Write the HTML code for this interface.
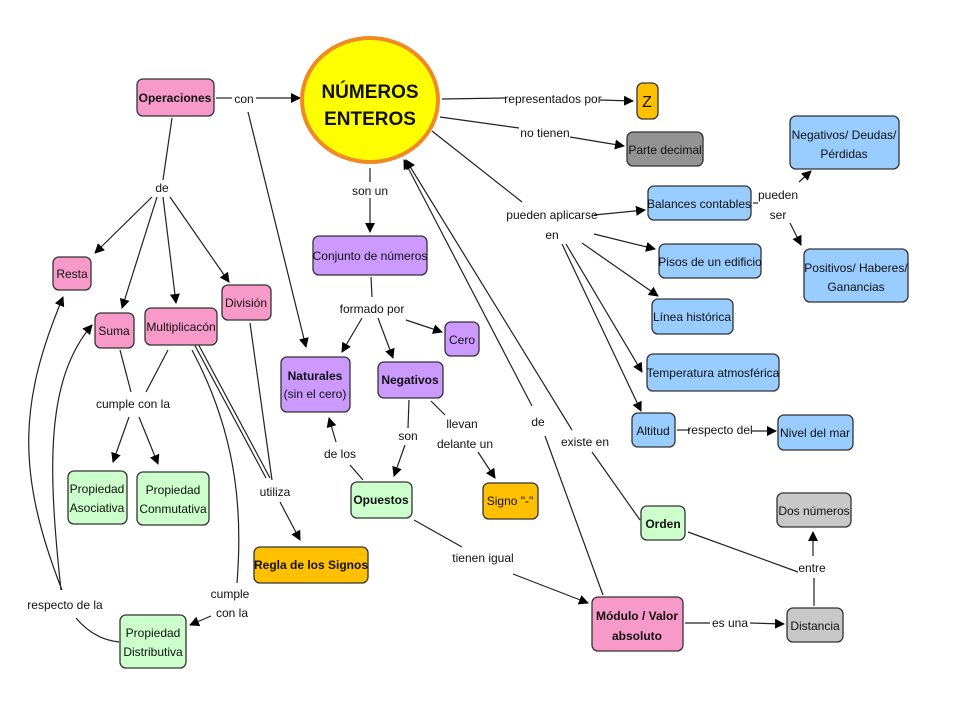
<!DOCTYPE html>
<html><head><meta charset="utf-8"><style>
html,body{margin:0;padding:0;background:#fff;}
svg{display:block;}
text{font-family:"Liberation Sans",sans-serif;font-size:12px;fill:#111;}
.b{font-weight:bold;}
</style></head><body>
<svg width="960" height="720" viewBox="0 0 960 720" xmlns="http://www.w3.org/2000/svg">
<defs>
<marker id="a" viewBox="0 0 10 10" refX="9" refY="5" markerWidth="10" markerHeight="10" markerUnits="userSpaceOnUse" orient="auto">
<path d="M0,0 L10,5 L0,10 z" fill="#000"/></marker>
</defs>
<g stroke="#222" stroke-width="1.2" fill="none">
<!-- Operaciones con -->
<line x1="216" y1="98" x2="232" y2="98"/>
<line x1="256" y1="98" x2="300" y2="98" marker-end="url(#a)"/>
<line x1="248" y1="112" x2="306" y2="347" marker-end="url(#a)"/>
<!-- de -->
<line x1="172" y1="118" x2="163" y2="180"/>
<line x1="152" y1="197" x2="95" y2="253" marker-end="url(#a)"/>
<line x1="157" y1="197" x2="122" y2="308" marker-end="url(#a)"/>
<line x1="163" y1="197" x2="176" y2="303" marker-end="url(#a)"/>
<line x1="170" y1="197" x2="229" y2="282" marker-end="url(#a)"/>
<!-- son un -->
<line x1="370" y1="168" x2="370" y2="182"/>
<line x1="370" y1="198" x2="370" y2="232" marker-end="url(#a)"/>
<!-- formado por -->
<line x1="371" y1="277" x2="372" y2="297"/>
<line x1="362" y1="318" x2="342" y2="352" marker-end="url(#a)"/>
<line x1="378" y1="318" x2="393" y2="358" marker-end="url(#a)"/>
<line x1="406" y1="320" x2="442" y2="332" marker-end="url(#a)"/>
<!-- utiliza -->
<line x1="250" y1="323" x2="272" y2="480"/>
<line x1="192" y1="340" x2="266" y2="478"/>
<line x1="196" y1="340" x2="270" y2="478"/>
<line x1="280" y1="502" x2="300" y2="540" marker-end="url(#a)"/>
<!-- cumple con la -->
<line x1="120" y1="350" x2="131" y2="392"/>
<line x1="168" y1="350" x2="146" y2="392"/>
<line x1="129" y1="417" x2="113" y2="462" marker-end="url(#a)"/>
<line x1="139" y1="417" x2="158" y2="464" marker-end="url(#a)"/>
<!-- cumple con la (distributiva) -->
<path d="M192,350 C240,440 242,520 237,583"/>
<line x1="211" y1="616" x2="190" y2="625" marker-end="url(#a)"/>
<!-- respecto de la -->
<path d="M119,642 C100,640 86,630 76,618"/>
<path d="M62,590 C15,470 20,400 63,297" marker-end="url(#a)"/>
<path d="M61,590 C48,470 45,380 92,325" marker-end="url(#a)"/>
<!-- son -->
<line x1="409" y1="400" x2="408" y2="428"/>
<line x1="405" y1="445" x2="394" y2="476" marker-end="url(#a)"/>
<!-- llevan -->
<line x1="431" y1="401" x2="445" y2="415"/>
<line x1="478" y1="452" x2="495" y2="478" marker-end="url(#a)"/>
<!-- de los -->
<line x1="363" y1="480" x2="350" y2="465"/>
<line x1="336" y1="442" x2="329" y2="418" marker-end="url(#a)"/>
<!-- tienen igual -->
<line x1="414" y1="520" x2="462" y2="547"/>
<line x1="513" y1="574" x2="588" y2="603" marker-end="url(#a)"/>
<!-- representados por -->
<line x1="442" y1="99" x2="506" y2="98"/>
<line x1="600" y1="100" x2="633" y2="101" marker-end="url(#a)"/>
<!-- no tienen -->
<line x1="440" y1="117" x2="519" y2="128"/>
<line x1="570" y1="137" x2="624" y2="146" marker-end="url(#a)"/>
<!-- pueden aplicarse -->
<line x1="432" y1="131" x2="522" y2="202"/>
<line x1="594" y1="215" x2="645" y2="210" marker-end="url(#a)"/>
<line x1="594" y1="234" x2="655" y2="249" marker-end="url(#a)"/>
<line x1="582" y1="243" x2="658" y2="296" marker-end="url(#a)"/>
<line x1="566" y1="244" x2="642" y2="372" marker-end="url(#a)"/>
<line x1="562" y1="244" x2="641" y2="411" marker-end="url(#a)"/>
<!-- pueden ser -->
<line x1="753" y1="203" x2="758" y2="203"/>
<line x1="799" y1="182" x2="811" y2="171" marker-end="url(#a)"/>
<line x1="790" y1="223" x2="801" y2="245" marker-end="url(#a)"/>
<!-- respecto del -->
<line x1="677" y1="430" x2="690" y2="430"/>
<line x1="752" y1="431" x2="776" y2="431" marker-end="url(#a)"/>
<!-- de (modulo) -->
<line x1="603" y1="595" x2="545" y2="436"/>
<line x1="532" y1="406" x2="404" y2="160" marker-end="url(#a)"/>
<!-- existe en -->
<line x1="640" y1="520" x2="592" y2="452"/>
<line x1="572" y1="430" x2="406" y2="160" marker-end="url(#a)"/>
<!-- entre -->
<line x1="688" y1="532" x2="798" y2="572"/>
<line x1="814" y1="606" x2="814" y2="578"/>
<line x1="813" y1="556" x2="813" y2="532" marker-end="url(#a)"/>
<!-- es una -->
<line x1="685" y1="623" x2="710" y2="623"/>
<line x1="750" y1="623" x2="784" y2="624" marker-end="url(#a)"/>
</g>

<!-- main ellipse -->
<ellipse cx="370" cy="100" rx="68" ry="62" fill="#ffff00" stroke="#f08a24" stroke-width="4"/>
<text x="370" y="98" text-anchor="middle" class="b" style="font-size:19px">NÚMEROS</text>
<text x="370" y="125" text-anchor="middle" class="b" style="font-size:19px">ENTEROS</text>

<g stroke="#333" stroke-width="1.3">
<rect x="137" y="79" width="77" height="37" rx="6" fill="#f79ac9"/>
<rect x="637" y="83" width="21" height="36" rx="6" fill="#ffc000"/>
<rect x="627" y="132" width="76" height="34" rx="6" fill="#939393"/>
<rect x="790" y="116" width="109" height="53" rx="6" fill="#99ccff"/>
<rect x="648" y="186" width="103" height="34" rx="6" fill="#99ccff"/>
<rect x="659" y="244" width="102" height="34" rx="6" fill="#99ccff"/>
<rect x="804" y="249" width="104" height="53" rx="6" fill="#99ccff"/>
<rect x="652" y="299" width="81" height="35" rx="6" fill="#99ccff"/>
<rect x="647" y="354" width="132" height="37" rx="6" fill="#99ccff"/>
<rect x="632" y="413" width="43" height="34" rx="6" fill="#99ccff"/>
<rect x="778" y="415" width="75" height="35" rx="6" fill="#99ccff"/>
<rect x="313" y="236" width="114" height="39" rx="6" fill="#cc99ff"/>
<rect x="445" y="322" width="34" height="34" rx="6" fill="#cc99ff"/>
<rect x="281" y="357" width="69" height="55" rx="6" fill="#cc99ff"/>
<rect x="378" y="362" width="65" height="36" rx="6" fill="#cc99ff"/>
<rect x="53" y="257" width="38" height="33" rx="6" fill="#f79ac9"/>
<rect x="95" y="313" width="39" height="35" rx="6" fill="#f79ac9"/>
<rect x="145" y="308" width="72" height="37" rx="6" fill="#f79ac9"/>
<rect x="222" y="285" width="49" height="35" rx="6" fill="#f79ac9"/>
<rect x="68" y="471" width="59" height="53" rx="6" fill="#ccffcc"/>
<rect x="137" y="472" width="72" height="53" rx="6" fill="#ccffcc"/>
<rect x="254" y="547" width="114" height="36" rx="6" fill="#ffc000"/>
<rect x="351" y="482" width="61" height="36" rx="6" fill="#ccffcc"/>
<rect x="483" y="483" width="55" height="36" rx="6" fill="#ffc000"/>
<rect x="641" y="506" width="44" height="34" rx="6" fill="#ccffcc"/>
<rect x="777" y="493" width="74" height="34" rx="6" fill="#c8c8c8"/>
<rect x="592" y="597" width="91" height="54" rx="6" fill="#f79ac9"/>
<rect x="787" y="608" width="56" height="34" rx="6" fill="#c8c8c8"/>
<rect x="120" y="615" width="66" height="53" rx="6" fill="#ccffcc"/>
</g>

<g text-anchor="middle">
<text x="175" y="102" class="b">Operaciones</text>
<text x="647" y="107" style="font-size:16px">Z</text>
<text x="665" y="154">Parte decimal</text>
<text x="844" y="139">Negativos/ Deudas/</text>
<text x="844" y="158">Pérdidas</text>
<text x="699" y="208">Balances contables</text>
<text x="710" y="266">Pisos de un edificio</text>
<text x="856" y="272">Positivos/ Haberes/</text>
<text x="856" y="291">Ganancias</text>
<text x="692" y="321">Línea histórica</text>
<text x="713" y="377">Temperatura atmosférica</text>
<text x="653" y="435">Altitud</text>
<text x="815" y="437">Nivel del mar</text>
<text x="370" y="260">Conjunto de números</text>
<text x="462" y="344">Cero</text>
<text x="315" y="380" class="b">Naturales</text>
<text x="315" y="398">(sin el cero)</text>
<text x="410" y="384" class="b">Negativos</text>
<text x="72" y="278">Resta</text>
<text x="114" y="335">Suma</text>
<text x="181" y="331">Multiplicacón</text>
<text x="246" y="307">División</text>
<text x="97" y="493">Propiedad</text>
<text x="97" y="512">Asociativa</text>
<text x="173" y="494">Propiedad</text>
<text x="173" y="513">Conmutativa</text>
<text x="311" y="569" class="b">Regla de los Signos</text>
<text x="381" y="504" class="b">Opuestos</text>
<text x="510" y="505">Signo "-"</text>
<text x="663" y="528" class="b">Orden</text>
<text x="814" y="515">Dos números</text>
<text x="637" y="620" class="b">Módulo / Valor</text>
<text x="637" y="640" class="b">absoluto</text>
<text x="815" y="630">Distancia</text>
<text x="153" y="637">Propiedad</text>
<text x="153" y="656">Distributiva</text>

<!-- link labels -->
<text x="244" y="103">con</text>
<text x="162" y="192">de</text>
<text x="370" y="195">son un</text>
<text x="372" y="313">formado por</text>
<text x="275" y="496">utiliza</text>
<text x="133" y="408">cumple con la</text>
<text x="230" y="598">cumple</text>
<text x="232" y="617">con la</text>
<text x="65" y="609">respecto de la</text>
<text x="408" y="440">son</text>
<text x="462" y="428">llevan</text>
<text x="465" y="448">delante un</text>
<text x="340" y="458">de los</text>
<text x="483" y="562">tienen igual</text>
<text x="553" y="103">representados por</text>
<text x="545" y="137">no tienen</text>
<text x="552" y="219">pueden aplicarse</text>
<text x="552" y="239">en</text>
<text x="778" y="199">pueden</text>
<text x="778" y="219">ser</text>
<text x="720" y="434">respecto del</text>
<text x="538" y="426">de</text>
<text x="585" y="446">existe en</text>
<text x="812" y="572">entre</text>
<text x="730" y="627">es una</text>
</g>
</svg>
</body></html>
